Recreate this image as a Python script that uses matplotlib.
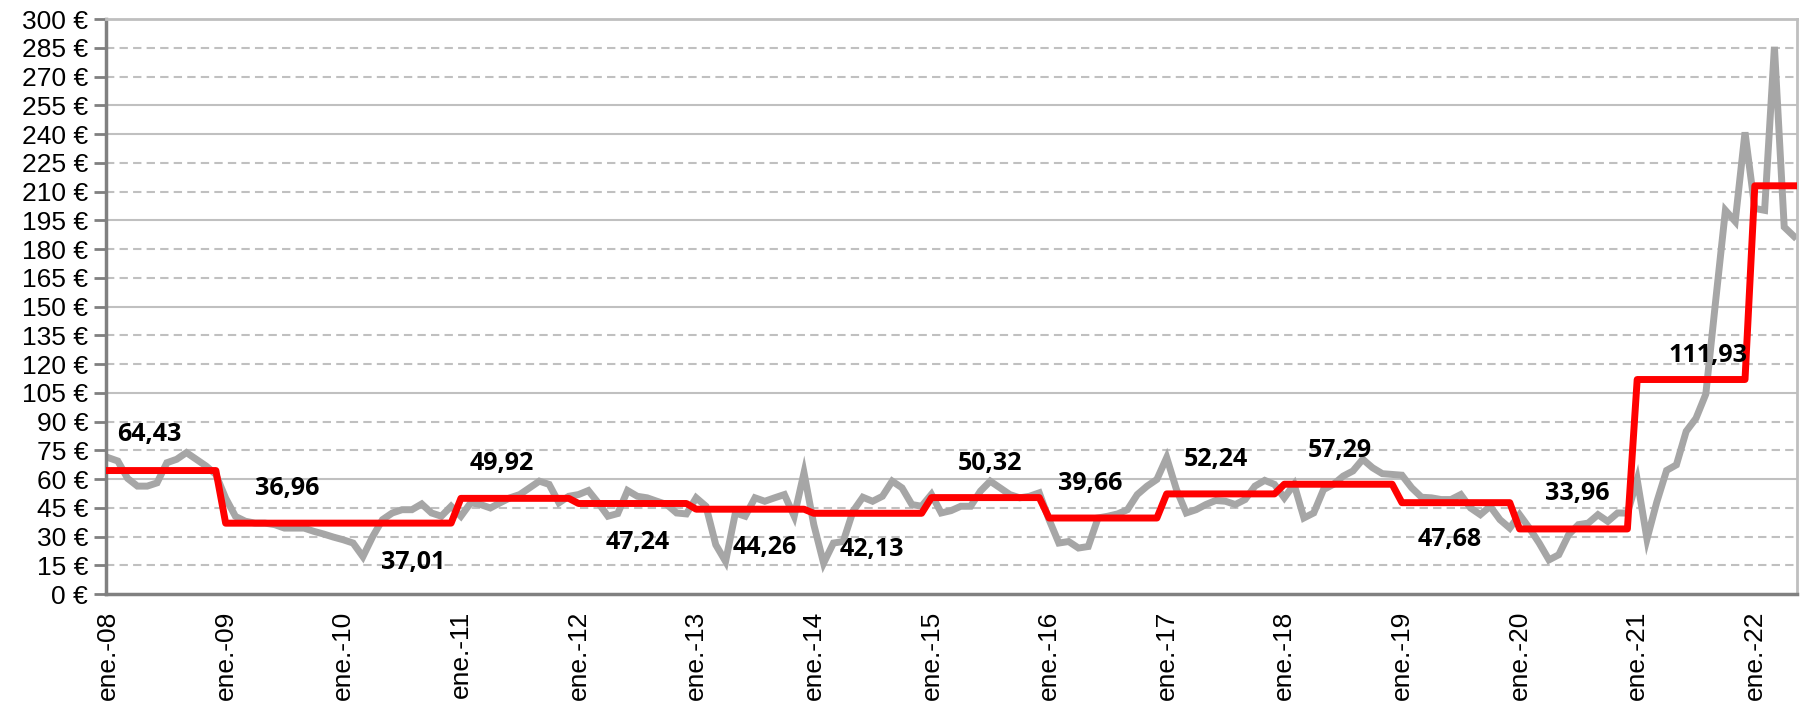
import numpy as np
import matplotlib
matplotlib.use("Agg")
import matplotlib.pyplot as plt

# precio mensual (ene-08 .. may-22), €
monthly = [
    71.2, 69.4, 60.3, 56.3, 56.3, 58.0, 68.5, 70.3, 73.8, 70.3, 66.8, 62.4,      # 2008
    50.0, 40.5, 38.0, 37.0, 37.0, 36.2, 34.4, 34.4, 34.4, 32.7, 31.3, 29.7,      # 2009
    28.3, 26.6, 19.5, 30.0, 38.8, 42.3, 44.0, 44.0, 47.0, 42.3, 40.6, 45.8,      # 2010
    40.6, 47.6, 46.7, 44.9, 47.6, 50.2, 51.9, 55.4, 58.9, 57.2, 47.6, 51.0,      # 2011
    51.9, 54.0, 47.6, 40.6, 42.0, 54.0, 51.0, 50.2, 48.4, 46.7, 42.3, 41.8,      # 2012
    50.2, 45.8, 25.7, 17.0, 42.3, 40.6, 50.2, 48.4, 50.2, 51.9, 40.6, 63.3,      # 2013
    36.2, 16.1, 26.6, 27.4, 43.2, 50.5, 48.4, 51.0, 58.9, 55.4, 46.7, 45.8,      # 2014
    52.0, 42.3, 43.5, 45.8, 45.8, 53.7, 58.9, 55.4, 51.9, 50.2, 51.0, 52.8,      # 2015
    38.8, 26.6, 27.4, 24.0, 24.8, 39.7, 40.6, 41.8, 44.0, 51.9, 56.3, 59.8,      # 2016
    71.2, 54.5, 42.3, 44.0, 46.7, 48.8, 48.4, 46.7, 49.3, 56.3, 59.3, 57.2,      # 2017
    50.2, 57.2, 39.7, 42.3, 54.5, 57.2, 61.5, 64.2, 70.3, 65.9, 62.8, 62.4,      # 2018
    62.0, 55.4, 50.5, 50.2, 49.3, 49.3, 51.9, 44.9, 41.4, 45.8, 38.8, 34.4,      # 2019
    41.4, 34.4, 26.6, 17.8, 20.5, 30.9, 36.2, 37.0, 41.4, 37.9, 42.3, 42.2,      # 2020
    59.7, 28.7, 48.0, 64.5, 67.4, 84.9, 91.7, 104.3, 152.7, 200.2, 194.4, 240.9, # 2021
    201.2, 200.2, 285.5, 191.5, 186.6,                                           # 2022
]

# medias anuales
years = list(range(2008, 2023))
annual_avg = [64.43, 36.96, 37.01, 49.92, 47.24, 44.26, 42.13, 50.32,
              39.66, 52.24, 57.29, 47.68, 33.96, 111.93, 213.0]
months_per_year = [12] * 14 + [5]
avg_labels = ["64,43", "36,96", "37,01", "49,92", "47,24", "44,26", "42,13",
              "50,32", "39,66", "52,24", "57,29", "47,68", "33,96", "111,93"]
# posición de cada etiqueta (mes, valor)
label_pos_x = [4.2, 18.3, 31.1, 40.2, 54.0, 67.0, 77.9, 90.0, 100.2, 113.0,
               125.7, 136.9, 149.9, 163.2]
label_pos_y = [83, 55.3, 16.2, 68.3, 27.0, 24.5, 23.0, 68.3, 57.9, 70.4,
               75.0, 28.2, 52.2, 124.7]

tick_labels = [f"ene.-{y % 100:02d}" for y in years]

x = np.arange(len(monthly))
red = np.repeat(annual_avg, months_per_year)

fig = plt.figure(figsize=(18.04, 7.06), dpi=100)
ax = fig.add_axes([0.0588, 0.1586, 0.9961 - 0.0588, 0.973 - 0.1586])

# rejilla
solid_grid = {60, 105, 150, 195, 240, 255}
for v in range(15, 300, 15):
    if v in solid_grid:
        ax.axhline(v, color="#c0c0c0", lw=1.5, zorder=0)
    else:
        ax.axhline(v, color="#c0c0c0", lw=1.5, ls=(0, (4, 2.5)), zorder=0)

ax.plot(x, monthly, color="#a6a6a6", lw=5, solid_joinstyle="miter", zorder=2)
ax.plot(np.arange(len(red)), red, color="#ff0000", lw=5, zorder=3)

for t, lx, ly in zip(avg_labels, label_pos_x, label_pos_y):
    ax.text(lx, ly, t, ha="center", va="center", fontsize=18,
            fontweight="bold", family="Open Sans", color="black", zorder=4)

ax.set_xlim(-0.2, 172.3)
ax.set_ylim(0, 300)
ax.set_yticks(range(0, 301, 15))
ax.set_yticklabels([f"{v} €" for v in range(0, 301, 15)],
                   family="Liberation Sans", fontsize=19)
ax.set_xticks(np.arange(0, len(monthly), 12))
ax.set_xticklabels(tick_labels, rotation=90, family="Liberation Sans", fontsize=19)
ax.tick_params(axis="y", length=9, width=2, color="#808080", pad=4)
ax.tick_params(axis="x", length=0, pad=12)

for s in ["left", "bottom"]:
    ax.spines[s].set_color("#808080")
    ax.spines[s].set_linewidth(2.5)
for s in ["top", "right"]:
    ax.spines[s].set_color("#bfbfbf")
    ax.spines[s].set_linewidth(2)

fig.savefig("out.png", dpi=100)
